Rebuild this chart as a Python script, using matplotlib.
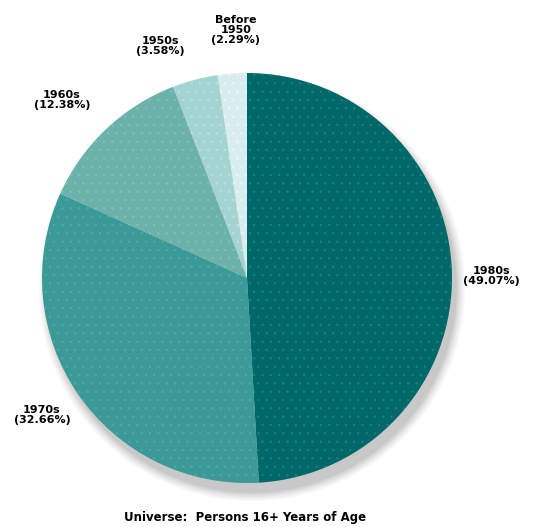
"""Pie chart: decade of arrival, persons 16+ years of age."""

import matplotlib.pyplot as plt

LABELS = ["1980s", "1970s", "1960s", "1950s", "Before\n1950"]
SHARES = [49.07, 32.66, 12.38, 3.58, 2.29]
COLORS = ["#006868", "#3b9a97", "#6ab2aa", "#a3d4d1", "#d8eeee"]
HATCH_COLORS = ["#1d8480", "#55aaa6", "#84c2bb", "#bde3df", "#eef9f7"]

W, H = 537, 527
CX, CY, R = 247, 249, 205

plt.rcParams["hatch.linewidth"] = 0.4

fig = plt.figure(figsize=(W / 100, H / 100), dpi=100)
ax = fig.add_axes([0, 0, 1, 1])

# soft grey drop shadow below/right of the pie
for i, a in enumerate([0.08, 0.10, 0.13, 0.16, 0.22]):
    ax.add_patch(plt.Circle((CX + 5, CY - 10), R + 8 - 2 * i, color="#9a9a9a", alpha=a, lw=0))

wedges, _ = ax.pie(
    SHARES,
    colors=COLORS,
    startangle=90,
    counterclock=False,
    center=(CX, CY),
    radius=R,
    frame=True,
    wedgeprops={"linewidth": 0},
)
for w, hc in zip(wedges, HATCH_COLORS):
    w.set_hatch("..")
    w.set_edgecolor(hc)
    w.set_linewidth(0)

ax.set_xlim(0, W)
ax.set_ylim(0, H)
ax.set_aspect("equal")
ax.axis("off")

# label anchors (pixel layout, y measured upward)
label_pos = [(491, H - 276), (42, H - 415), (62, H - 100), (160, H - 46), (236, H - 30)]
for lab, share, (x, y) in zip(LABELS, SHARES, label_pos):
    ax.text(x, y, f"{lab}\n({share:.2f}%)", ha="center", va="center",
            fontsize=8, fontweight="bold", linespacing=0.95, color="black")

ax.text(245, H - 517, "Universe:  Persons 16+ Years of Age", ha="center", va="center",
        fontsize=8.5, fontweight="bold", color="black")

fig.savefig("out.png", dpi=100, facecolor="white")
